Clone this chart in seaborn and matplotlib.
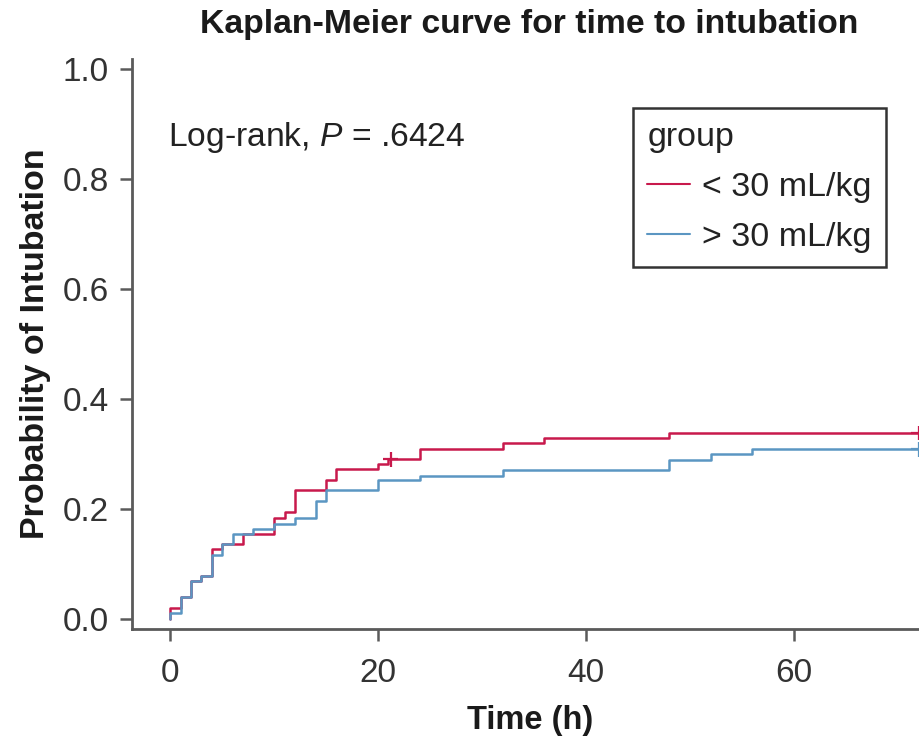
import numpy as np
import pandas as pd
import matplotlib
matplotlib.use("Agg")
import matplotlib.pyplot as plt
import seaborn as sns
from matplotlib.lines import Line2D

# ---- data ----
groups = ["< 30 mL/kg", "> 30 mL/kg"]
red_time = [0, 0, 1, 2, 3, 4, 5, 7, 10, 11, 12, 15, 16, 20, 21, 24, 32, 36, 48, 72]
red_prob = [0, 0.020, 0.039, 0.068, 0.078, 0.127, 0.136, 0.155, 0.184, 0.195,
            0.234, 0.252, 0.272, 0.281, 0.290, 0.309, 0.319, 0.329, 0.338, 0.338]
blue_time = [0, 0, 1, 2, 3, 4, 5, 6, 8, 10, 12, 14, 15, 20, 24, 32, 48, 52, 56, 72]
blue_prob = [0, 0.010, 0.039, 0.068, 0.078, 0.117, 0.136, 0.155, 0.164, 0.173,
             0.183, 0.214, 0.234, 0.253, 0.260, 0.270, 0.288, 0.299, 0.308, 0.308]
red_censor_time = [21.2, 72]
red_censor_prob = [0.290, 0.338]
blue_censor_time = [72]
blue_censor_prob = [0.308]
x_ticks = [0, 20, 40, 60]
y_ticks = [0.0, 0.2, 0.4, 0.6, 0.8, 1.0]

colors = {"< 30 mL/kg": "#C8194C", "> 30 mL/kg": "#5B96C2"}

curve = pd.concat([
    pd.DataFrame({"time": red_time, "prob": red_prob, "group": groups[0]}),
    pd.DataFrame({"time": blue_time, "prob": blue_prob, "group": groups[1]}),
], ignore_index=True)
censor = pd.concat([
    pd.DataFrame({"time": red_censor_time, "prob": red_censor_prob, "group": groups[0]}),
    pd.DataFrame({"time": blue_censor_time, "prob": blue_censor_prob, "group": groups[1]}),
], ignore_index=True)

sns.set_theme(style="ticks")
plt.rcParams["font.family"] = ["Liberation Sans", "DejaVu Sans"]
plt.rcParams["mathtext.fontset"] = "custom"
plt.rcParams["mathtext.rm"] = "Liberation Sans"
plt.rcParams["mathtext.it"] = "Liberation Sans:italic"

W, H = 920, 737
fig = plt.figure(figsize=(W / 100, H / 100), dpi=100)
ax = fig.add_axes([131.7 / W, 1 - 629.3 / H, (929 - 131.7) / W, (629.3 - 59) / H])

for g in groups:
    d = curve[curve["group"] == g]
    sns.lineplot(data=d, x="time", y="prob", ax=ax, color=colors[g],
                 drawstyle="steps-post", estimator=None, sort=False,
                 linewidth=1.8, legend=False)
sns.scatterplot(data=censor, x="time", y="prob", hue="group", palette=colors,
                marker="+", s=110, linewidth=1.6, ax=ax, legend=False, zorder=3)

ax.set_xlim(-3.7, 73.0)
ax.set_ylim(-0.019, 1.018)
ax.set_xticks(x_ticks)
ax.set_yticks(y_ticks)
ax.set_yticklabels([f"{v:.1f}" for v in y_ticks])

spine_col = "#5a5a5a"
for s in ["top", "right"]:
    ax.spines[s].set_visible(False)
for s in ["left", "bottom"]:
    ax.spines[s].set_color(spine_col)
    ax.spines[s].set_linewidth(2.0)
ax.tick_params(axis="both", colors=spine_col, width=1.8, length=8.5,
               labelsize=24, labelcolor="#333333")
ax.tick_params(axis="y", pad=8)
ax.tick_params(axis="x", pad=12)

ax.set_xlabel("Time (h)", fontsize=23.5, fontweight="bold", color="#1a1a1a", labelpad=12)
ax.set_ylabel("Probability of Intubation", fontsize=24.5, fontweight="bold",
              color="#1a1a1a", labelpad=8)

fig.text(529 / W, 1 - 25 / H, "Kaplan-Meier curve for time to intubation",
         ha="center", va="center", fontsize=24.3, fontweight="bold", color="#1a1a1a")

ax.text(-0.22, 0.876, "Log-rank, $\\mathit{P}$ = .6424", fontsize=24.2,
        ha="left", va="center", color="#222222")

handles = [Line2D([0], [0], color=colors[g], lw=1.5) for g in groups]
leg = ax.legend(handles, groups, title="group", loc="upper left",
                bbox_to_anchor=(0.629, 0.914), frameon=True, fancybox=False,
                edgecolor="#333333", framealpha=1, fontsize=24.5, title_fontsize=24.5,
                handlelength=1.25, handletextpad=0.35, labelspacing=0.55,
                borderpad=0.42, alignment="left", borderaxespad=0)
leg.get_frame().set_linewidth(1.8)
for t in leg.get_texts():
    t.set_color("#222222")
leg.get_title().set_color("#222222")

fig.savefig("out.png", dpi=100)
